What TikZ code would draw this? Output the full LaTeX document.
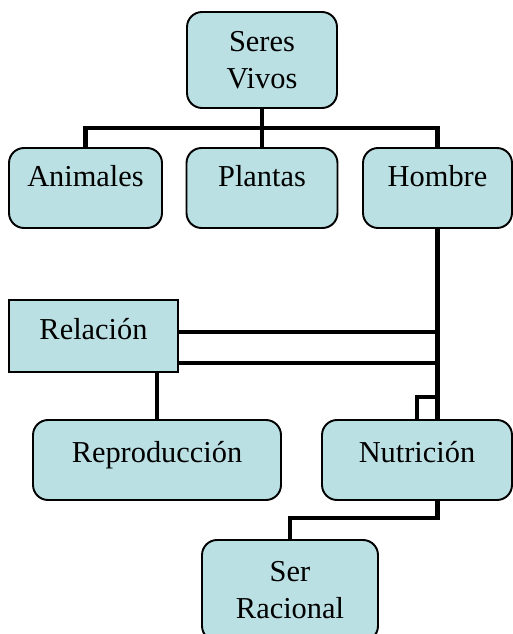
\documentclass[tikz,border=0pt]{standalone}
\usepackage{fontspec}
\setmainfont{Liberation Serif}
\definecolor{boxfill}{RGB}{187,224,227}

\begin{document}
\begin{tikzpicture}[x=0.02cm, y=-0.02cm,
        box/.style={draw, line width=1.1pt, fill=boxfill, rounded corners=0.3cm,
                    font=\fontsize{17.3pt}{21pt}\selectfont, inner sep=0pt},
        oneline/.style={text height=0.7em, text depth=0.45em},
        link/.style={line width=2.6pt}]
        \useasboundingbox (0,0) rectangle (512,634);

        \node[box, align=center, minimum width=3cm, minimum height=1.92cm] (seres) at (262,60) {Seres\\Vivos};
        \node[box, oneline, text depth=0.9em, minimum width=3.06cm, minimum height=1.6cm] (animales) at (85.5,188) {Animales};
        \node[box, oneline, text depth=0.9em, minimum width=3.02cm, minimum height=1.6cm] (plantas) at (262,188) {Plantas};
        \node[box, oneline, text depth=0.9em, minimum width=2.98cm, minimum height=1.6cm] (hombre) at (437.5,188) {Hombre};
        \node[box, oneline, text depth=0.35em, rounded corners=0pt, minimum width=3.38cm, minimum height=1.44cm] (relacion) at (93.5,336) {Relación};
        \node[box, oneline, minimum width=4.96cm, minimum height=1.6cm] (reproduccion) at (157,460) {Reproducción};
        \node[box, oneline, minimum width=3.8cm, minimum height=1.6cm] (nutricion) at (417,460) {Nutrición};
        \node[box, align=center, minimum width=3.52cm, minimum height=2.02cm] (racional) at (290,590.5) {Ser\\Racional};

        \coordinate (bus) at (262,128);
        \draw[link] (seres.south) -- (bus);
        \draw[link] (bus) -| (animales.north);
        \draw[link] (bus) -- (plantas.north);
        \draw[link] (bus) -| (hombre.north);

        \draw[link] (hombre.south) -- (hombre.south |- nutricion.north);
        \draw[link] (relacion.east |- 0,332) -- (hombre.south |- 0,332);
        \draw[link] (relacion.east |- 0,363) -- (hombre.south |- 0,363);
        \draw[link] (reproduccion.north) -- (reproduccion.north |- relacion.south);
        \draw[link] (hombre.south |- 0,397) -| (nutricion.north);

        \draw[link] (hombre.south |- nutricion.south) -- ++(0,17) -| (racional.north);
\end{tikzpicture}
\end{document}
